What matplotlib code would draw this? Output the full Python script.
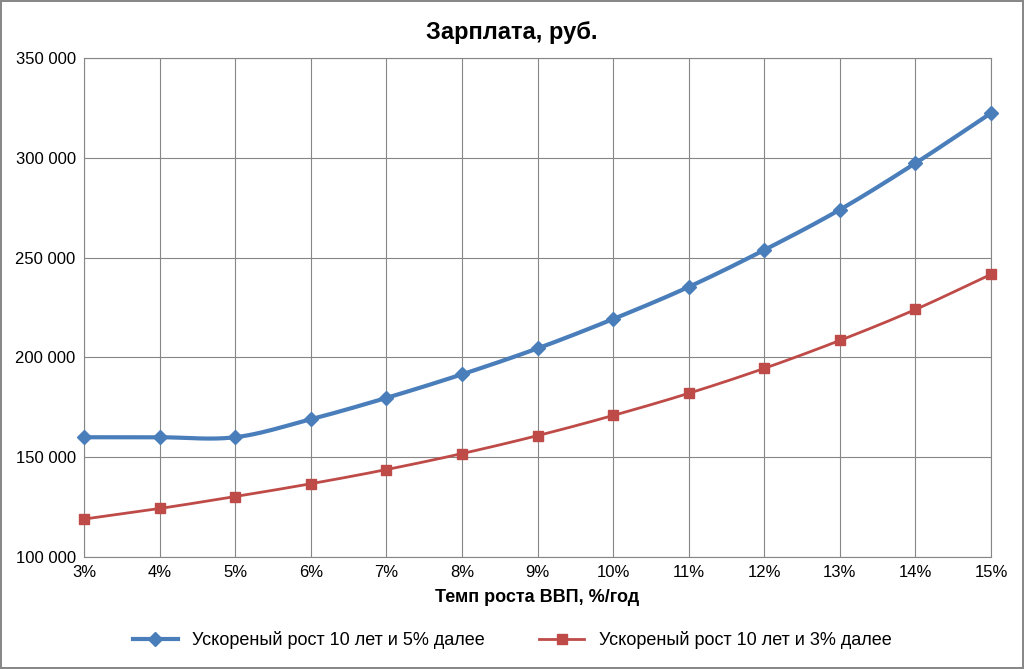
import matplotlib
matplotlib.use("Agg")
import matplotlib.pyplot as plt
import numpy as np
from matplotlib.ticker import FuncFormatter

rates = [3, 4, 5, 6, 7, 8, 9, 10, 11, 12, 13, 14, 15]
blue_vals = [160000, 160000, 160000, 169000, 179700, 191500, 204500, 219200, 235300, 253800, 274000, 297300, 322400]
red_vals = [119000, 124300, 130300, 136700, 143800, 151800, 160800, 170900, 182000, 194500, 208500, 224000, 241600]
blue_label = "Ускореный рост 10 лет и 5% далее"
red_label = "Ускореный рост 10 лет и 3% далее"

def smooth(x, y, n=20):
    x = np.asarray(x, float); y = np.asarray(y, float)
    px = np.concatenate([[2*x[0]-x[1]], x, [2*x[-1]-x[-2]]])
    py = np.concatenate([[2*y[0]-y[1]], y, [2*y[-1]-y[-2]]])
    xs, ys = [], []
    for i in range(1, len(px)-2):
        t = np.linspace(0, 1, n, endpoint=False)
        for P, out in ((px, xs), (py, ys)):
            p0, p1, p2, p3 = P[i-1], P[i], P[i+1], P[i+2]
            out.extend(0.5*((2*p1) + (-p0+p2)*t + (2*p0-5*p1+4*p2-p3)*t**2 + (-p0+3*p1-3*p2+p3)*t**3))
    xs.append(x[-1]); ys.append(y[-1])
    return np.array(xs), np.array(ys)

plt.rcParams["font.family"] = "Liberation Sans"
fig = plt.figure(figsize=(10.24, 6.69), dpi=100)
fig.patch.set_edgecolor("#888888"); fig.patch.set_linewidth(1.5)
ax = fig.add_axes([84/1024, 1-557/669, (991-84)/1024, (557-58)/669])

for vals, col, mk, lab, lw in ((blue_vals, "#4a7ebb", "D", blue_label, 3), (red_vals, "#be4b48", "s", red_label, 2)):
    sx, sy = smooth(rates, vals)
    ax.plot(sx, sy, color=col, lw=lw, clip_on=False)
    ax.plot(rates, vals, color=col, lw=0, marker=mk, ms=7, clip_on=False, zorder=3)
    ax.plot([], [], color=col, lw=lw, marker=mk, ms=7, label=lab)

ax.set_xlim(3, 15); ax.set_ylim(100000, 350000)
ax.set_xticks(rates); ax.set_xticklabels([f"{r}%" for r in rates])
ax.set_yticks(range(100000, 350001, 50000))
ax.yaxis.set_major_formatter(FuncFormatter(lambda v, p: f"{int(v):,}".replace(",", " ")))
ax.grid(True, color="#868686", lw=0.8)
for s in ax.spines.values(): s.set_color("#868686")
ax.tick_params(length=0, labelsize=12, pad=6)
fig.text(0.5, 1-33/669, "Зарплата, руб.", ha="center", va="center", fontsize=17, fontweight="bold")
ax.set_xlabel("Темп роста ВВП, %/год", fontsize=13, fontweight="bold", labelpad=6)
fig.legend(loc="lower center", bbox_to_anchor=(0.5, 0.005), ncol=2, frameon=False,
           prop={"size": 13}, handlelength=2.5, columnspacing=3)
fig.savefig("out.png", dpi=100, edgecolor=fig.get_edgecolor())
